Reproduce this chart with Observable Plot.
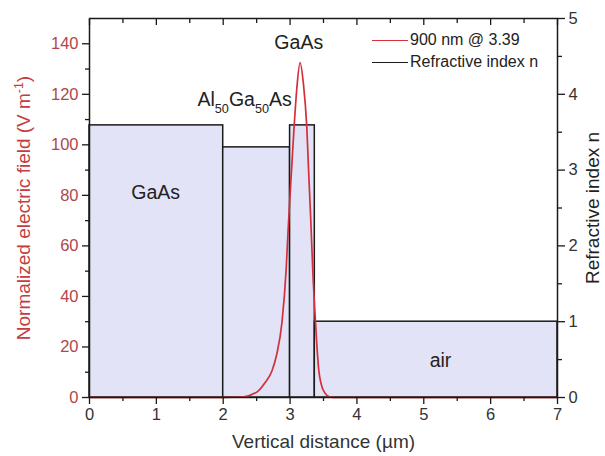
<!DOCTYPE html>
<html><head><meta charset="utf-8">
<script src="https://cdn.jsdelivr.net/npm/d3@7"></script>
<script src="https://cdn.jsdelivr.net/npm/@observablehq/plot@0.6"></script>
<style>
body{margin:0;background:#fff;font-family:"Liberation Sans",Arial,sans-serif;}
#wrap{position:relative;width:605px;height:456px;}
#legend{position:absolute;left:372px;top:29px;font-size:16px;color:#222;line-height:22px;}
#legend .row{display:flex;align-items:center;white-space:nowrap;}
#legend .sw{display:inline-block;width:36px;height:0;border-top:1.6px solid;margin-right:2px;}
</style></head><body><div id="wrap"><div id="legend"></div></div>
<script>
// Layers (refractive index n)
const layerStart = [0, 2, 3, 3.37];
const layerEnd   = [2, 3, 3.37, 7];
const layerIndex = [3.59, 3.30, 3.59, 1.0];
// Normalized electric field at 900 nm
const fieldX = [0, 2.0, 2.3, 2.4, 2.53, 2.63, 2.73, 2.8, 2.88, 2.94, 2.97, 3.0, 3.06, 3.1, 3.15, 3.2, 3.25, 3.28, 3.31, 3.34, 3.38, 3.43, 3.5, 3.6, 3.7, 7];
const fieldE = [0, 0,   0.3, 0.9, 2.7,  6,    10.6, 17,  30,   50,   66,   80,  107,  122, 132.5, 124, 107,  88,   70,   50,   30,   10.6, 2.7, 0.2, 0,   0];
// Region labels
const annotText = ["GaAs", "Al_{50}Ga_{50}As", "GaAs", "air"];
const annotX = [0.99, 2.32, 3.13, 5.25];
const annotY = [81, 118, 140.5, 14.5];
// Ticks
const xTicks = [0, 1, 2, 3, 4, 5, 6, 7];
const xMinor = [0.5, 1.5, 2.5, 3.5, 4.5, 5.5, 6.5];
const leftTicks = [0, 20, 40, 60, 80, 100, 120, 140];
const leftMinor = [10, 30, 50, 70, 90, 110, 130];
const rightTicks = [0, 1, 2, 3, 4, 5];
const rightMinor = [0.5, 1.5, 2.5, 3.5, 4.5];
// Legend
const legendLabels = ["900 nm @ 3.39", "Refractive index n"];
const legendColors = ["#d3303b", "#1a1a1a"];

const layers = layerStart.map((s, i) => ({start: s, end: layerEnd[i], n: layerIndex[i]}));
const field = fieldX.map((x, i) => ({x, e: fieldE[i]}));
const annots = annotText.map((t, i) => ({t, x: annotX[i], y: annotY[i]}));
const nToE = d3.scaleLinear([0, 5], [0, 150]);

const axisCol = "#1a1a1a";
const plot = Plot.plot({
  width: 605, height: 456,
  marginLeft: 89, marginRight: 48, marginTop: 18, marginBottom: 59,
  x: {domain: [0, 7]},
  y: {domain: [0, 150]},
  style: {fontFamily: "'Liberation Sans', Arial, sans-serif", fontSize: "16px", background: "white", overflow: "visible"},
  marks: [
    Plot.rect(layers, {x1: "start", x2: "end", y1: 0, y2: d => nToE(d.n), fill: "#e3e3f7", stroke: "#1a1a1a", strokeWidth: 1.5}),
    Plot.line(field, {x: "x", y: "e", stroke: legendColors[0], strokeWidth: 1.7, curve: "monotone-x"}),
    Plot.frame({stroke: axisCol, strokeWidth: 1.5}),
    Plot.text(annots, {x: "x", y: "y", text: "t", fontSize: 19.5, fill: "#222"}),
    // bottom axis
    Plot.axisX(xTicks, {anchor: "bottom", tickSize: 7, tickPadding: 4, stroke: axisCol, fill: "#333", strokeWidth: 1.3,
      label: "Vertical distance (µm)", labelAnchor: "center", labelArrow: "none", labelOffset: 50, fontSize: 16.5}),
    Plot.axisX(xMinor, {anchor: "bottom", tickSize: 4, text: null, label: null, stroke: axisCol, strokeWidth: 1.3}),
    // top axis (inward ticks)
    Plot.axisX(xTicks, {anchor: "top", tickSize: -6, text: null, label: null, stroke: axisCol, strokeWidth: 1.3}),
    Plot.axisX(xMinor, {anchor: "top", tickSize: -4, text: null, label: null, stroke: axisCol, strokeWidth: 1.3}),
    // left axis
    Plot.axisY(leftTicks, {anchor: "left", tickSize: 7, tickPadding: 4, stroke: axisCol, fill: "#b0464c", strokeWidth: 1.3,
      label: "Normalized electric field (V m^{-1})", labelAnchor: "center", labelArrow: "none", labelOffset: 73, fontSize: 16.5}),
    Plot.axisY(leftMinor, {anchor: "left", tickSize: 4, text: null, label: null, stroke: axisCol, strokeWidth: 1.3}),
    // right axis (refractive index)
    Plot.axisY(rightTicks, {anchor: "right", y: nToE, tickFormat: d => d, tickSize: 7, tickPadding: 4, stroke: axisCol, fill: "#333", strokeWidth: 1.3,
      label: "Refractive index n", labelAnchor: "center", labelArrow: "none", labelOffset: 41, fontSize: 16.5}),
    Plot.axisY(rightMinor, {anchor: "right", y: nToE, tickSize: 4, text: null, label: null, stroke: axisCol, strokeWidth: 1.3})
  ]
});

// sub/superscripts and label styling
d3.select(plot).selectAll("text").each(function () {
  const t = this.textContent;
  if (!/[_^]\{/.test(t)) return;
  const parts = t.split(/([_^]\{[^}]*\})/);
  const sel = d3.select(this);
  sel.text(null);
  parts.forEach(p => {
    if (!p) return;
    const m = p.match(/^([_^])\{(.*)\}$/);
    if (m) sel.append("tspan").attr("baseline-shift", m[1] === "_" ? "sub" : "super").attr("font-size", "65%").text(m[2]);
    else sel.append("tspan").text(p);
  });
});
d3.select(plot).selectAll("[aria-label='x-axis label'] text, [aria-label='y-axis label'] text").attr("font-size", 19);
d3.select(plot).selectAll("[aria-label='y-axis label']").each(function () {
  const s = d3.select(this);
  if (/Normalized/.test(this.textContent)) s.attr("fill", "#c43c40");
  else s.attr("fill", "#222");
});

document.getElementById("wrap").prepend(plot);
const leg = d3.select("#legend");
legendLabels.forEach((l, i) => {
  const r = leg.append("div").attr("class", "row");
  r.append("span").attr("class", "sw").style("border-color", legendColors[i]);
  r.append("span").text(l);
});
</script>
</body></html>
